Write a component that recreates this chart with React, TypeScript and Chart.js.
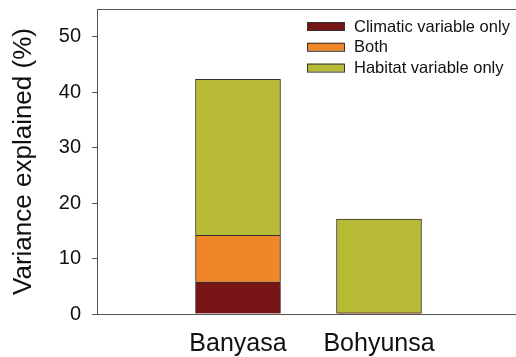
import React, { useEffect, useRef } from "react";
import { Chart, registerables } from "chart.js";

Chart.register(...registerables);

const categories = ["Banyasa", "Bohyunsa"];
const climaticOnly = [5.8, 0.2];
const both = [8.4, 0];
const habitatOnly = [28.1, 16.9];
const seriesNames = ["Climatic variable only", "Both", "Habitat variable only"];
const seriesColors = ["#761416", "#ef8627", "#b8bb35"];
const yTicks = [0, 10, 20, 30, 40, 50];

const FONT = "Arial, 'Liberation Sans', sans-serif";

const frameAndLegend = {
  id: "frameAndLegend",
  afterDraw(chart: any) {
    const { ctx, chartArea } = chart;
    ctx.save();
    ctx.strokeStyle = "#555";
    ctx.lineWidth = 1;
    ctx.beginPath();
    ctx.moveTo(chartArea.left, chartArea.top + 0.5);
    ctx.lineTo(chartArea.right, chartArea.top + 0.5);
    ctx.stroke();
    // legend
    const x0 = 307;
    const y0 = 26;
    const gap = 20.8;
    ctx.font = `16.5px ${FONT}`;
    ctx.textBaseline = "middle";
    chart.data.datasets.forEach((ds: any, i: number) => {
      const y = y0 + i * gap;
      ctx.fillStyle = ds.backgroundColor;
      ctx.fillRect(x0, y - 4, 37, 8);
      ctx.strokeStyle = "#333";
      ctx.strokeRect(x0 + 0.5, y - 4 + 0.5, 37, 8);
      ctx.fillStyle = "#111";
      ctx.fillText(ds.label, x0 + 47, y + 1);
    });
    ctx.restore();
  },
};

export default function App() {
  const ref = useRef<HTMLCanvasElement>(null);
  useEffect(() => {
    if (!ref.current) return;
    const labels = ["", ...categories, ""];
    const pad = (arr: number[]) => [null, ...arr, null];
    const series = [climaticOnly, both, habitatOnly];
    const chart = new Chart(ref.current, {
      type: "bar",
      data: {
        labels,
        datasets: series.map((s, i) => ({
          label: seriesNames[i],
          data: pad(s) as any,
          backgroundColor: seriesColors[i],
          borderColor: "#333",
          borderWidth: 1,
          barThickness: 85,
        })),
      },
      options: {
        animation: false,
        responsive: false,
        maintainAspectRatio: false,
        layout: { padding: { top: 9, right: 10, left: 0, bottom: 0 } },
        plugins: { legend: { display: false }, tooltip: { enabled: false } },
        scales: {
          x: {
            stacked: true,
            offset: false,
            grid: { display: false },
            border: { display: true, color: "#555" },
            ticks: {
              color: "#111",
              font: { size: 25, family: FONT },
              padding: 7,
              maxRotation: 0,
              autoSkip: false,
            },
            afterFit(scale: any) {
              scale.height = 43;
              scale.paddingLeft = 0;
              scale.paddingRight = 0;
            },
          },
          y: {
            stacked: true,
            min: 0,
            max: 55,
            afterBuildTicks(scale: any) {
              scale.ticks = yTicks.map((v) => ({ value: v }));
            },
            grid: {
              drawOnChartArea: false,
              drawTicks: true,
              tickLength: 5,
              color: "#555",
            },
            border: { display: true, color: "#555" },
            ticks: {
              color: "#111",
              font: { size: 20, family: FONT },
              padding: 11,
            },
            title: {
              display: true,
              text: "Variance explained (%)",
              color: "#111",
              font: { size: 26, family: FONT },
              padding: { top: 8, bottom: 0 },
            },
            afterFit(scale: any) {
              scale.width = 97;
              scale.paddingTop = 0;
              scale.paddingBottom = 0;
            },
          },
        },
      },
      plugins: [frameAndLegend],
    });
    return () => chart.destroy();
  }, []);
  return (
    <div style={{ position: "fixed", left: 0, top: 0, width: 530, height: 357, background: "#fff" }}>
      <canvas ref={ref} width={530} height={357} style={{ display: "block" }} />
    </div>
  );
}
